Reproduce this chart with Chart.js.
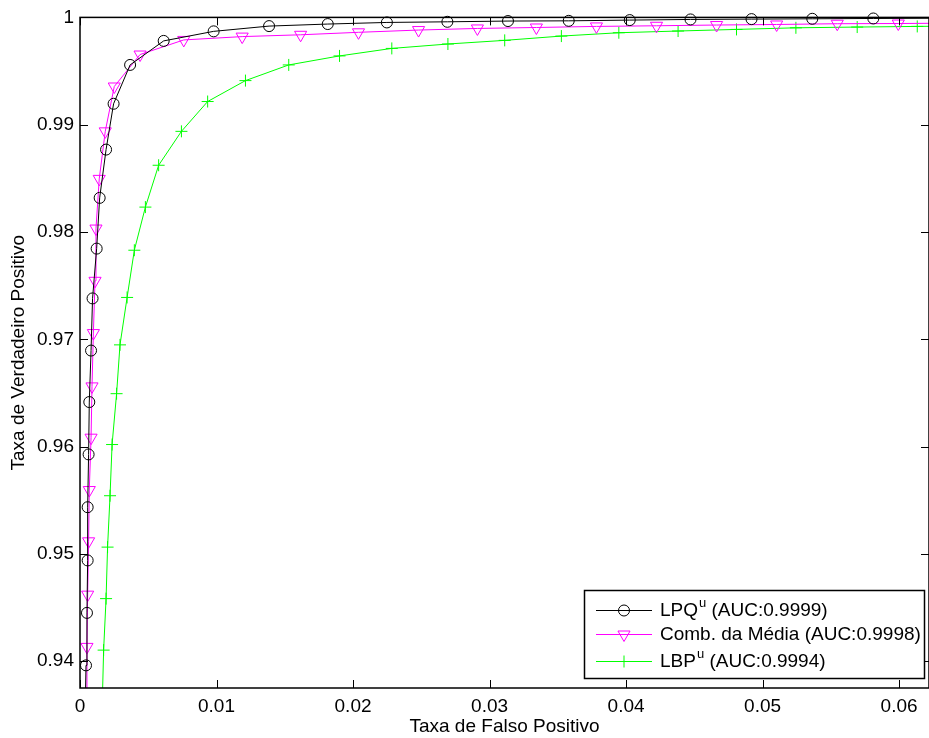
<!DOCTYPE html>
<html>
<head>
<meta charset="utf-8">
<script src="https://cdn.jsdelivr.net/npm/chart.js@4.4.1/dist/chart.umd.min.js"></script>
<style>
  html, body { margin: 0; padding: 0; background: #fff; }
  #wrap { width: 929px; height: 738px; }
</style>
</head>
<body>
<div id="wrap"><canvas id="roc"></canvas></div>
<script>
// ROC points: false positive rate / true positive rate
// (first and last entries only carry the line to the axes edge, no marker)
const lpqFpr = [0.00041, 0.00044, 0.00051, 0.00056, 0.00056, 0.00063, 0.00068, 0.00081, 0.00092, 0.00122, 0.00144,
  0.00191, 0.00246, 0.00367, 0.00613, 0.00979, 0.01385, 0.01815, 0.02248, 0.02691, 0.03135, 0.03580,
  0.04027, 0.04472, 0.04919, 0.05364, 0.05811, 0.06219];
const lpqTpr = [0.9375, 0.93961, 0.94450, 0.94939, 0.95435, 0.95927, 0.96415, 0.96895, 0.97381, 0.97845, 0.98318,
  0.98768, 0.99195, 0.99557, 0.99781, 0.99870, 0.99919, 0.99938, 0.99953, 0.99959, 0.99966, 0.99968,
  0.99975, 0.99981, 0.99984, 0.99987, 0.99990, 0.99992];

const combFpr = [0.00048, 0.00051, 0.00056, 0.00063, 0.00068, 0.00081, 0.00088, 0.00098, 0.00110, 0.00117, 0.00141,
  0.00185, 0.00251, 0.00440, 0.00760, 0.01188, 0.01616, 0.02040, 0.02480, 0.02911, 0.03343, 0.03783,
  0.04223, 0.04663, 0.05103, 0.05547, 0.05994, 0.06219];
const combTpr = [0.9375, 0.94133, 0.94620, 0.95117, 0.95595, 0.96083, 0.96561, 0.97058, 0.97545, 0.98032, 0.98495,
  0.98938, 0.99356, 0.99654, 0.99790, 0.99821, 0.99838, 0.99861, 0.99882, 0.99897, 0.99906, 0.99916,
  0.99922, 0.99929, 0.99934, 0.99941, 0.99943, 0.99945];

const lbpFpr = [0.00166, 0.00173, 0.00191, 0.00202, 0.00220, 0.00235, 0.00268, 0.00293, 0.00345, 0.00398, 0.00479,
  0.00576, 0.00743, 0.00935, 0.01212, 0.01529, 0.01901, 0.02284, 0.02695, 0.03111, 0.03526, 0.03947,
  0.04381, 0.04809, 0.05244, 0.05693, 0.06133, 0.06219];
const lbpTpr = [0.9375, 0.94103, 0.94583, 0.95063, 0.95542, 0.96019, 0.96493, 0.96948, 0.97390, 0.97830, 0.98232,
  0.98622, 0.98938, 0.99216, 0.99411, 0.99557, 0.99641, 0.99711, 0.99752, 0.99786, 0.99826, 0.99857,
  0.99873, 0.99888, 0.99903, 0.99910, 0.99916, 0.99917];

const xTicks = [0, 0.01, 0.02, 0.03, 0.04, 0.05, 0.06];
const yTicks = [0.94, 0.95, 0.96, 0.97, 0.98, 0.99, 1];

// legend text: name, superscript, rest
const legendText = [
  ['LPQ', 'u', ' (AUC:0.9999)'],
  ['Comb. da Média', '', ' (AUC:0.9998)'],
  ['LBP', 'u', ' (AUC:0.9994)']
];

const FONT = '"Liberation Sans", Arial, sans-serif';

function toPoints(xs, ys) {
  return xs.map((v, i) => ({ x: v, y: ys[i] }));
}

// hide the marker on the helper end points
function markerSize(size) {
  return ctx => (ctx.dataIndex === 0 || ctx.dataIndex === ctx.dataset.data.length - 1) ? 0 : size;
}

// box + inward ticks on all four sides, like the original figure
const framePlugin = {
  id: 'frame',
  afterDatasetsDraw(chart) {
    const { ctx, chartArea: a, scales: { x, y } } = chart;
    ctx.save();
    ctx.strokeStyle = '#000';
    ctx.lineWidth = 1;
    ctx.beginPath();
    x.ticks.forEach(t => {
      const px = Math.round(x.getPixelForValue(t.value)) + 0.5;
      ctx.moveTo(px, a.bottom); ctx.lineTo(px, a.bottom - 8);
      ctx.moveTo(px, a.top); ctx.lineTo(px, a.top + 8);
    });
    y.ticks.forEach(t => {
      const py = Math.round(y.getPixelForValue(t.value)) + 0.5;
      ctx.moveTo(a.left, py); ctx.lineTo(a.left + 8, py);
      ctx.moveTo(a.right, py); ctx.lineTo(a.right - 8, py);
    });
    ctx.stroke();
    ctx.lineWidth = 1.5;
    ctx.strokeRect(a.left, a.top, a.right - a.left, a.bottom - a.top);
    ctx.restore();
  }
};

const legendPlugin = {
  id: 'boxLegend',
  afterDraw(chart) {
    const ctx = chart.ctx;
    const rows = [610, 634, 661];
    ctx.save();
    ctx.fillStyle = '#fff';
    ctx.fillRect(584.5, 590.5, 340, 88);
    ctx.strokeStyle = '#000';
    ctx.lineWidth = 1.5;
    ctx.strokeRect(584.5, 590.5, 340, 88);

    chart.data.datasets.forEach((ds, i) => {
      const yy = rows[i];
      ctx.strokeStyle = ds.borderColor;
      ctx.lineWidth = 1;
      ctx.beginPath();
      ctx.moveTo(596, yy + 0.5);
      ctx.lineTo(652, yy + 0.5);
      ctx.stroke();
      ctx.fillStyle = 'rgba(0,0,0,0)';
      Chart.helpers.drawPoint(ctx, {
        pointStyle: ds.pointStyle,
        rotation: ds.pointRotation || 0,
        radius: ds.legendRadius,
        borderWidth: 1
      }, 624, yy + 0.5);

      const [name, sup, rest] = legendText[i];
      let tx = 660;
      ctx.fillStyle = '#000';
      ctx.textBaseline = 'middle';
      ctx.textAlign = 'left';
      ctx.font = '19px ' + FONT;
      ctx.fillText(name, tx, yy + 1);
      tx += ctx.measureText(name).width;
      if (sup) {
        ctx.font = '13px ' + FONT;
        ctx.fillText(sup, tx + 1, yy - 7);
        tx += ctx.measureText(sup).width + 1;
      }
      ctx.font = '19px ' + FONT;
      ctx.fillText(rest, tx, yy + 1);
    });
    ctx.restore();
  }
};

new Chart(document.getElementById('roc'), {
  type: 'line',
  data: {
    datasets: [
      {
        label: 'LPQu (AUC:0.9999)',
        data: toPoints(lpqFpr, lpqTpr),
        borderColor: '#000000',
        borderWidth: 1,
        pointStyle: 'circle',
        pointRadius: markerSize(5.5),
        legendRadius: 5.5,
        pointBorderColor: '#000000',
        pointBackgroundColor: 'rgba(0,0,0,0)',
        pointBorderWidth: 1,
        tension: 0,
        clip: false
      },
      {
        label: 'Comb. da Média (AUC:0.9998)',
        data: toPoints(combFpr, combTpr),
        borderColor: '#ff00ff',
        borderWidth: 1,
        pointStyle: 'triangle',
        pointRotation: 180,
        pointRadius: markerSize(7),
        legendRadius: 7,
        pointBorderColor: '#ff00ff',
        pointBackgroundColor: 'rgba(0,0,0,0)',
        pointBorderWidth: 1,
        tension: 0,
        clip: false
      },
      {
        label: 'LBPu (AUC:0.9994)',
        data: toPoints(lbpFpr, lbpTpr),
        borderColor: '#00ff00',
        borderWidth: 1,
        pointStyle: 'cross',
        pointRadius: markerSize(6),
        legendRadius: 6,
        pointBorderColor: '#00ff00',
        pointBackgroundColor: 'rgba(0,0,0,0)',
        pointBorderWidth: 1,
        tension: 0,
        clip: false
      }
    ]
  },
  options: {
    responsive: true,
    maintainAspectRatio: false,
    animation: false,
    events: [],
    layout: { padding: { top: 15.5, right: 0, bottom: 0, left: 0 } },
    plugins: {
      legend: { display: false },
      tooltip: { enabled: false }
    },
    scales: {
      x: {
        type: 'linear',
        min: 0,
        max: 0.06219,
        afterFit: s => { s.height = 50; },
        afterBuildTicks: s => { s.ticks = xTicks.map(v => ({ value: v })); },
        grid: { display: false, drawTicks: false },
        border: { display: false },
        ticks: {
          color: '#000',
          padding: 7,
          maxRotation: 0,
          font: { family: FONT, size: 19 },
          callback: v => String(+v.toFixed(2))
        },
        title: {
          display: true,
          text: 'Taxa de Falso Positivo',
          color: '#000',
          font: { family: FONT, size: 19 },
          padding: { top: 0, bottom: 0 }
        }
      },
      y: {
        type: 'linear',
        min: 0.9375,
        max: 1,
        afterFit: s => { s.width = 80; },
        afterBuildTicks: s => { s.ticks = yTicks.map(v => ({ value: v })); },
        grid: { display: false, drawTicks: false },
        border: { display: false },
        ticks: {
          color: '#000',
          padding: 6,
          font: { family: FONT, size: 19 },
          callback: v => String(+v.toFixed(2))
        },
        title: {
          display: true,
          text: 'Taxa de Verdadeiro Positivo',
          color: '#000',
          font: { family: FONT, size: 19 },
          padding: { top: 7, bottom: 0 }
        }
      }
    }
  },
  plugins: [framePlugin, legendPlugin]
});
</script>
</body>
</html>
